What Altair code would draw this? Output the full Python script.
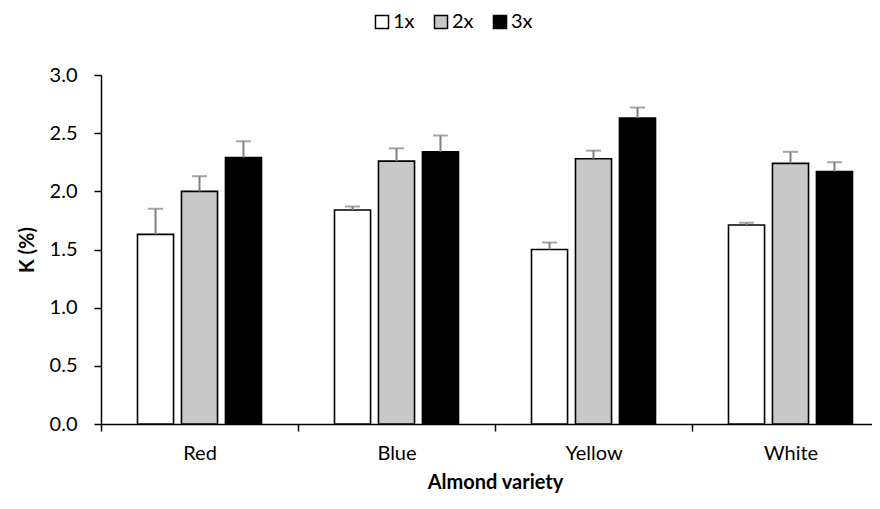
import altair as alt
import pandas as pd

varieties = ["Red", "Blue", "Yellow", "White"]
treatments = ["1x", "2x", "3x"]
mean_1x = [1.63, 1.84, 1.50, 1.71]
mean_2x = [2.00, 2.26, 2.28, 2.24]
mean_3x = [2.29, 2.34, 2.63, 2.17]
err_1x = [0.22, 0.03, 0.06, 0.02]
err_2x = [0.13, 0.11, 0.07, 0.10]
err_3x = [0.14, 0.14, 0.09, 0.08]

rows = []
for t, ms, es in zip(treatments, [mean_1x, mean_2x, mean_3x], [err_1x, err_2x, err_3x]):
    for v, m, e in zip(varieties, ms, es):
        rows.append({"Variety": v, "Treatment": t, "K": m, "Top": m + e})
df = pd.DataFrame(rows)

FONT = "Lato"

x_enc = alt.X(
    "Variety:N",
    sort=varieties,
    scale=alt.Scale(paddingInner=0, paddingOuter=0),
    axis=alt.Axis(
        title="Almond variety",
        tickBand="extent",
        labelAngle=0,
        labelPadding=12,
        tickSize=7,
        titlePadding=9,
    ),
)
xoff = alt.XOffset(
    "Treatment:N",
    sort=treatments,
    scale=alt.Scale(paddingInner=0.18, paddingOuter=0.83),
)
y_scale = alt.Scale(domain=[0, 3])

bars = alt.Chart(df).mark_bar(stroke="black", strokeWidth=1.6).encode(
    x=x_enc,
    xOffset=xoff,
    y=alt.Y(
        "K:Q",
        scale=y_scale,
        axis=alt.Axis(
            title="K (%)",
            values=[0, 0.5, 1, 1.5, 2, 2.5, 3],
            format=".1f",
            grid=False,
            tickSize=7,
            labelPadding=17,
            titleX=-74,
            titleY=174.5,
            titleAlign="center",
            titleBaseline="middle",
        ),
    ),
    fill=alt.Fill(
        "Treatment:N",
        sort=treatments,
        scale=alt.Scale(domain=treatments, range=["white", "#c8c8c8", "black"]),
        legend=alt.Legend(
            title=None,
            orient="none",
            direction="horizontal",
            legendX=271,
            legendY=-63,
            symbolType="square",
            symbolSize=170,
            symbolStrokeColor="black",
            symbolStrokeWidth=1.5,
            labelFontSize=20,
            labelFont=FONT,
            labelColor="black",
            labelOffset=1,
            columnPadding=16,
        ),
    ),
)

err_rule = alt.Chart(df).mark_rule(color="#808080", strokeWidth=2).encode(
    x=x_enc, xOffset=xoff, y=alt.Y("K:Q", scale=y_scale), y2="Top:Q"
)
err_cap = alt.Chart(df).mark_tick(color="#808080", thickness=2, size=15).encode(
    x=x_enc, xOffset=xoff, y=alt.Y("Top:Q", scale=y_scale)
)

chart = (
    alt.layer(bars, err_rule, err_cap)
    .properties(
        width=788,
        height=349,
        autosize=alt.AutoSizeParams(type="none"),
        padding={"left": 93, "top": 67, "right": -17, "bottom": 77},
    )
    .configure_view(stroke=None)
    .configure_axis(
        domainColor="black",
        domainWidth=1.5,
        tickColor="black",
        tickWidth=1.5,
        labelFont=FONT,
        labelFontSize=20,
        labelColor="black",
        titleFont=FONT,
        titleFontSize=20,
        titleFontWeight="bold",
        titleColor="black",
    )
)

chart.save("out.html", embed_options={"renderer": "svg", "actions": False})
